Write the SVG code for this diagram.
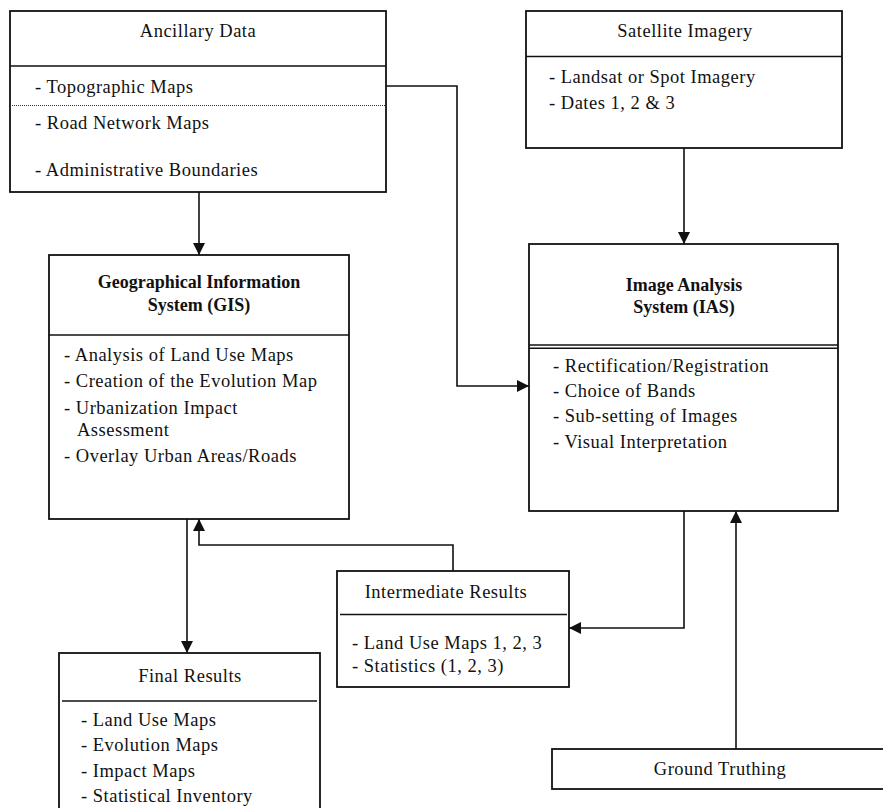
<svg xmlns="http://www.w3.org/2000/svg" width="883" height="808" viewBox="0 0 883 808">
  <style>
    .box { fill: #fff; stroke: #111; stroke-width: 1.8; }
    .rule { stroke: #111; stroke-width: 1.5; fill: none; }
    .dots { stroke: #333; stroke-width: 1.2; stroke-dasharray: 1 1; fill: none; }
    .wire { stroke: #111; stroke-width: 1.6; fill: none; marker-end: url(#arrow); }
    text { font-family: "Liberation Serif", "Times New Roman", serif; font-size: 18.5px; fill: #111; letter-spacing: 0.5px; }
    .title { text-anchor: middle; }
    .bold { font-weight: bold; font-size: 18px; text-anchor: middle; letter-spacing: 0; }
  </style>
  <defs>
    <marker id="arrow" markerWidth="12" markerHeight="12" refX="12" refY="6" orient="auto" markerUnits="userSpaceOnUse">
      <path d="M0,0 L12,6 L0,12 Z" fill="#111"/>
    </marker>
  </defs>

  <rect width="883" height="808" fill="#fff"/>

  <g id="connectors">
    <path class="wire" d="M199,192 V255"/>
    <path class="wire" d="M386,86 H457 V386 H529"/>
    <path class="wire" d="M684,148 V244"/>
    <path class="wire" d="M684,511 V628 H569"/>
    <path class="wire" d="M736,749 V511"/>
    <path class="wire" d="M453,571 V545 H199 V519"/>
    <path class="wire" d="M187,519 V653"/>
  </g>

  <g id="ancillary-data">
    <rect class="box" x="10" y="11" width="376" height="181"/>
    <line class="rule" x1="10" y1="66" x2="386" y2="66"/>
    <line class="dots" x1="10" y1="105.5" x2="386" y2="105.5"/>
    <text class="title" x="198" y="37">Ancillary Data</text>
    <text x="35" y="93">- Topographic Maps</text>
    <text x="35" y="129">- Road Network Maps</text>
    <text x="35" y="176">- Administrative Boundaries</text>
  </g>

  <g id="satellite-imagery">
    <rect class="box" x="526" y="11" width="316" height="137"/>
    <line class="rule" x1="526" y1="56.5" x2="842" y2="56.5"/>
    <text class="title" x="685" y="37">Satellite Imagery</text>
    <text x="549" y="83">- Landsat or Spot Imagery</text>
    <text x="549" y="109">- Dates 1, 2 &amp; 3</text>
  </g>

  <g id="gis">
    <rect class="box" x="49" y="255" width="300" height="264"/>
    <line class="rule" x1="49" y1="335" x2="349" y2="335"/>
    <text class="bold" x="199" y="288">Geographical Information</text>
    <text class="bold" x="199" y="311">System (GIS)</text>
    <text x="64" y="361">- Analysis of Land Use Maps</text>
    <text x="64" y="387">- Creation of the Evolution Map</text>
    <text x="64" y="414">- Urbanization Impact</text>
    <text x="77" y="436">Assessment</text>
    <text x="64" y="462">- Overlay Urban Areas/Roads</text>
  </g>

  <g id="ias">
    <rect class="box" x="529" y="244" width="309" height="267"/>
    <line class="rule" x1="529" y1="345" x2="838" y2="345"/>
    <line class="rule" x1="529" y1="348.3" x2="838" y2="348.3"/>
    <text class="bold" x="684" y="291">Image Analysis</text>
    <text class="bold" x="684" y="313">System (IAS)</text>
    <text x="553" y="372">- Rectification/Registration</text>
    <text x="553" y="397">- Choice of Bands</text>
    <text x="553" y="422">- Sub-setting of Images</text>
    <text x="553" y="448">- Visual Interpretation</text>
  </g>

  <g id="intermediate-results">
    <rect class="box" x="337" y="571" width="232" height="116"/>
    <line class="rule" x1="340" y1="614.5" x2="567" y2="614.5"/>
    <text class="title" x="446" y="598">Intermediate Results</text>
    <text x="352" y="649">- Land Use Maps 1, 2, 3</text>
    <text x="352" y="672">- Statistics (1, 2, 3)</text>
  </g>

  <g id="final-results">
    <rect class="box" x="59" y="653" width="261" height="170"/>
    <line class="rule" x1="62" y1="701" x2="317" y2="701"/>
    <text class="title" x="190" y="682">Final Results</text>
    <text x="81" y="726">- Land Use Maps</text>
    <text x="81" y="751">- Evolution Maps</text>
    <text x="81" y="777">- Impact Maps</text>
    <text x="81" y="802">- Statistical Inventory</text>
  </g>

  <g id="ground-truthing">
    <rect class="box" x="552" y="749" width="340" height="40"/>
    <text class="title" x="720" y="775">Ground Truthing</text>
  </g>
</svg>
